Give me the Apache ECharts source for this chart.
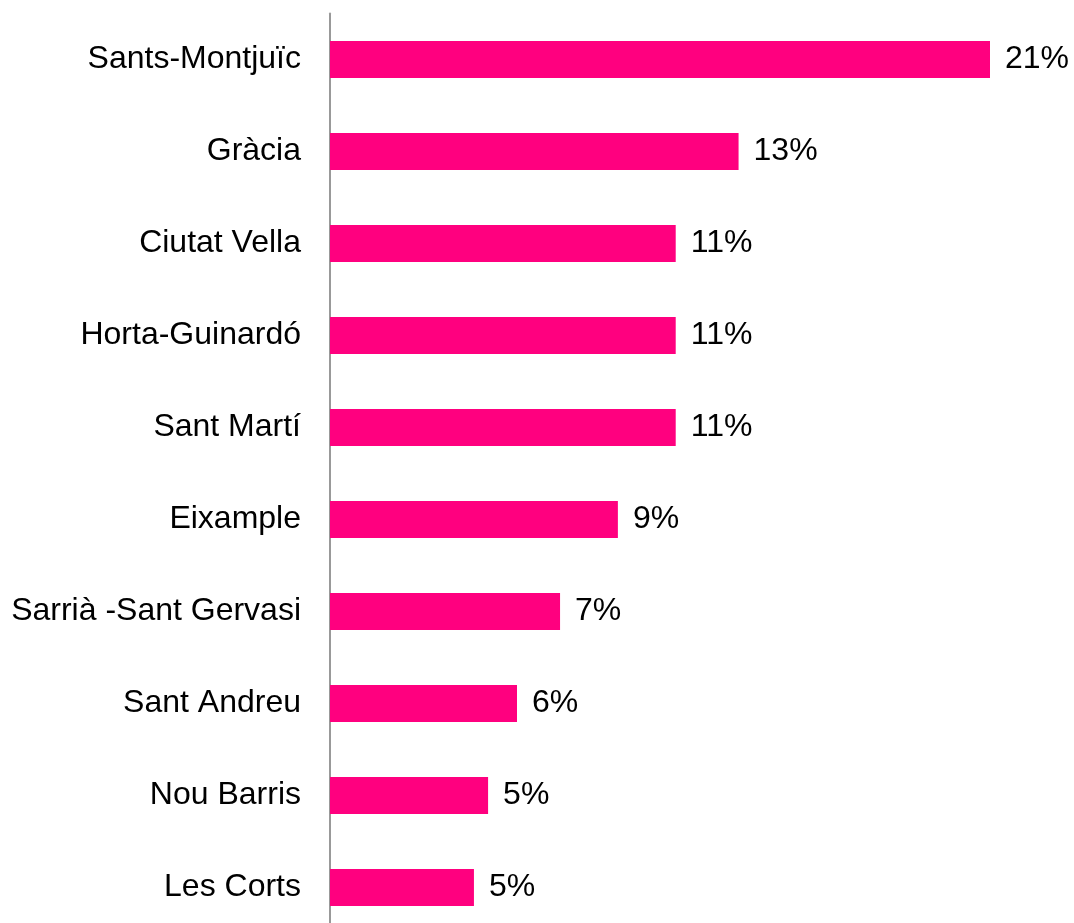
<!DOCTYPE html>
<html>
<head>
    <meta charset="UTF-8">
    <title>Districtes</title>
    <script src="https://cdn.jsdelivr.net/npm/echarts@6/dist/echarts.min.js"></script>
    <style>
        html, body { margin: 0; padding: 0; background: #fff; }
    </style>
</head>
<body>
<div id="chart" style="width: 1074px; height: 923px"></div>
<script>
    var districtes = ['Sants-Montjuïc', 'Gràcia', 'Ciutat Vella', 'Horta-Guinardó', 'Sant Martí',
        'Eixample', 'Sarrià -Sant Gervasi', 'Sant Andreu', 'Nou Barris', 'Les Corts'];
    var percentatges = [21.0, 13.0, 11.0, 11.0, 11.0, 9.16, 7.32, 5.95, 5.03, 4.58];

    var myChart = echarts.init(document.getElementById('chart'));
    var option = {
        backgroundColor: '#fff',
        animation: false,
        grid: {
            left: 330,
            top: 13.5,
            width: 660,
            height: 920,
            outerBoundsMode: 'none',
            containLabel: false
        },
        xAxis: {
            type: 'value',
            min: 0,
            max: 21,
            show: false
        },
        yAxis: {
            type: 'category',
            data: districtes,
            inverse: true,
            axisLine: { lineStyle: { color: '#999', width: 2 } },
            axisTick: { show: false },
            axisLabel: {
                color: '#000',
                fontSize: 32,
                fontFamily: 'Liberation Sans, Arial, sans-serif',
                margin: 29
            }
        },
        series: [{
            type: 'bar',
            data: percentatges,
            barWidth: 37,
            itemStyle: { color: '#ff007f' },
            label: {
                show: true,
                position: 'right',
                distance: 15,
                color: '#000',
                fontSize: 32,
                fontFamily: 'Liberation Sans, Arial, sans-serif',
                formatter: function (p) { return Math.round(p.value) + '%'; }
            }
        }]
    };
    myChart.setOption(option);
</script>
</body>
</html>
